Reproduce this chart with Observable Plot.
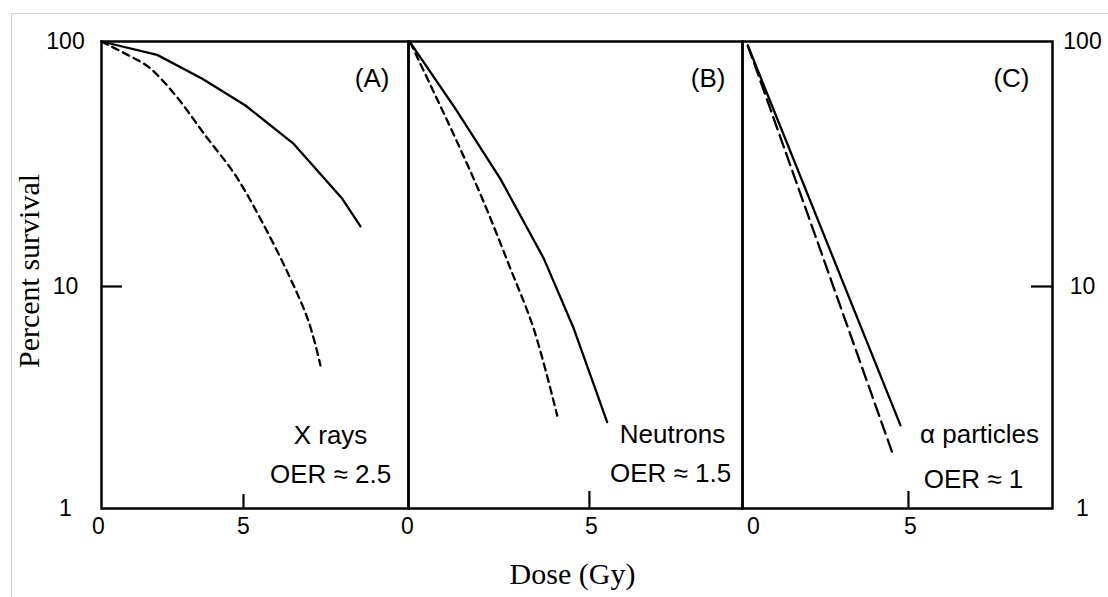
<!DOCTYPE html>
<html><head><meta charset="utf-8">
<script src="https://cdn.jsdelivr.net/npm/d3@7"></script>
<script src="https://cdn.jsdelivr.net/npm/@observablehq/plot@0.6"></script>
<style>
body{margin:0;background:#fff}
#root{position:relative;width:1108px;height:597px;overflow:hidden;background:#fff}
#edge{position:absolute;left:11px;top:13px;width:1100px;height:600px;border-top:1px solid #d0d0d0;border-left:1px solid #d0d0d0}
svg{overflow:visible}
</style></head>
<body><div id="root"><div id="edge"></div></div>
<script>
// ---- data ----
const yTicks = [1, 10, 100];
const xTickLabels = [0, 5];
const panelTags = ["(A)", "(B)", "(C)"];
const radiationNames = ["X rays", "Neutrons", "\u03b1 particles"];
const oerLabels = ["OER \u2248 2.5", "OER \u2248 1.5", "OER \u2248 1"];

// Panel A: X rays (solid = hypoxic, dashed = aerated)
const doseA_hyp = [0, 1.96, 3.55, 5.07, 6.77, 8.48, 9.12];
const survA_hyp = [100, 88.2, 70.4, 54.8, 38.2, 22.8, 17.6];
const doseA_aer = [0, 0.96, 1.67, 2.61, 3.66, 4.72, 5.66, 6.60, 7.30, 7.71];
const survA_aer = [100, 87.7, 78.5, 60.2, 41.3, 28.4, 18.3, 11.1, 6.91, 4.41];

// Panel B: Neutrons
const doseB_hyp = [0.05, 1.30, 2.54, 3.74, 4.57, 5.49];
const survB_hyp = [99, 53.1, 27.5, 13.0, 6.45, 2.45];
const doseB_aer = [0.05, 0.70, 1.39, 2.08, 2.82, 3.46, 4.11];
const survB_aer = [99, 62.1, 37.6, 22.1, 11.8, 6.45, 2.62];

// Panel C: alpha particles
const doseC_hyp = [0.16, 4.76];
const survC_hyp = [96.3, 2.37];
const doseC_aer = [0.16, 4.51];
const survC_aer = [96.3, 1.79];

// ---- drawing ----
const SANS = "Liberation Sans, Arial, Helvetica, sans-serif";
const SERIF = "Liberation Serif, Times New Roman, serif";
const rows = (d, s) => d.map((x, i) => ({dose: x, surv: s[i]}));
const root = document.getElementById("root");

function curves(dh, sh, da, sa, dash) {
  return [
    Plot.line(rows(da, sa), {x: "dose", y: "surv", stroke: "#000", strokeWidth: 2.3, strokeDasharray: dash, curve: "catmull-rom"}),
    Plot.line(rows(dh, sh), {x: "dose", y: "surv", stroke: "#000", strokeWidth: 2.3})
  ];
}
function xLabels(dx0, dx5) {
  return [
    Plot.text(xTickLabels.slice(0, 1), {x: d => d, text: d => String(d), frameAnchor: "bottom", dy: 25, dx: dx0, fontSize: 23}),
    Plot.text(xTickLabels.slice(1), {x: d => d, text: d => String(d), frameAnchor: "bottom", dy: 25, dx: dx5, fontSize: 23})
  ];
}
function notes(i, tagDx, nameDx, nameDy, oerDx, oerDy) {
  return [
    Plot.text([panelTags[i]], {text: d => d, frameAnchor: "top-right", textAnchor: "end", lineAnchor: "middle", dx: tagDx, dy: 37, fontSize: 26}),
    Plot.text([radiationNames[i]], {text: d => d, frameAnchor: "bottom-right", textAnchor: "middle", lineAnchor: "middle", dx: nameDx, dy: nameDy, fontSize: 26}),
    Plot.text([oerLabels[i]], {text: d => d, frameAnchor: "bottom-right", textAnchor: "middle", lineAnchor: "middle", dx: oerDx, dy: oerDy, fontSize: 26})
  ];
}
function panel(left, width, ml, mr, xMax, marks) {
  const svg = Plot.plot({
    width, height: 597, marginLeft: ml, marginRight: mr, marginTop: 41, marginBottom: 89,
    x: {domain: [0, xMax], axis: null},
    y: {type: "log", domain: yTicks, range: [508, 286, 41], axis: null},
    style: {fontFamily: SANS, fontSize: "23px", color: "#000", background: "transparent", overflow: "visible"},
    marks: [...marks, Plot.frame({stroke: "#000", strokeWidth: 2.5})]
  });
  svg.style.position = "absolute";
  svg.style.left = left + "px";
  svg.style.top = "0px";
  root.appendChild(svg);
}

// Panel A
panel(0, 410, 101, 2, 10.81, [
  ...curves(doseA_hyp, survA_hyp, doseA_aer, survA_aer, "7,5"),
  Plot.tickX([5], {x: d => d, insetTop: 453, stroke: "#000", strokeWidth: 2.2}),
  Plot.tickY([10], {y: d => d, insetRight: 286, stroke: "#000", strokeWidth: 2.2}),
  ...xLabels(-3, 0),
  Plot.text(yTicks, {y: d => d, text: d => String(d), frameAnchor: "left", dx: -36, textAnchor: "middle", fontSize: 23}),
  Plot.text(["Percent survival"], {text: d => d, frameAnchor: "left", textAnchor: "middle", lineAnchor: "middle", rotate: -90, dx: -72, dy: -4, fontFamily: SERIF, fontSize: 30}),
  ...notes(0, -19, -78, -73, -78, -34)
]);

// Panel B
panel(398, 354, 10, 10, 9.23, [
  ...curves(doseB_hyp, survB_hyp, doseB_aer, survB_aer, "7,5"),
  Plot.tickX([5], {x: d => d, insetTop: 450, stroke: "#000", strokeWidth: 2.2}),
  ...xLabels(-1, 2),
  Plot.text(["Dose (Gy)"], {text: d => d, frameAnchor: "bottom", dx: -3, dy: 75, fontFamily: SERIF, fontSize: 30}),
  ...notes(1, -17, -70, -74, -72, -35)
]);

// Panel C
panel(732, 376, 10, 56, 9.34, [
  ...curves(doseC_hyp, survC_hyp, doseC_aer, survC_aer, "13,6"),
  Plot.tickX([5], {x: d => d, insetTop: 450, stroke: "#000", strokeWidth: 2.2}),
  Plot.tickY([10], {y: d => d, insetLeft: 289, stroke: "#000", strokeWidth: 2.2}),
  ...xLabels(11, 2),
  Plot.text(yTicks, {y: d => d, text: d => String(d), frameAnchor: "right", dx: 30, textAnchor: "middle", fontSize: 23}),
  ...notes(2, -23, -73, -74, -79, -29)
]);
</script>
</body></html>
